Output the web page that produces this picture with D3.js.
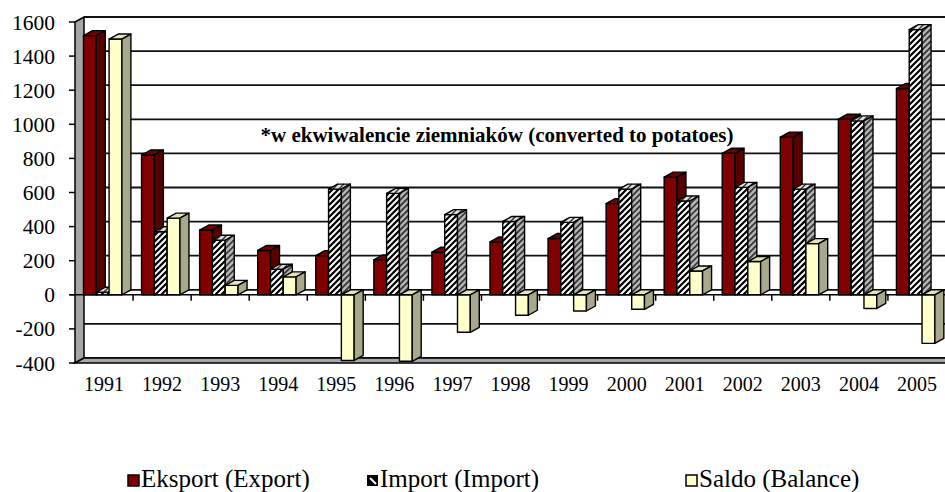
<!DOCTYPE html>
<meta charset="utf-8">
<style>
body { margin: 0; background: #fff; }
</style>
<svg width="945" height="492" font-family="Liberation Serif"></svg>
<script src="https://cdnjs.cloudflare.com/ajax/libs/d3/7.8.5/d3.min.js"></script>
<script>

var years = ["1991","1992","1993","1994","1995","1996","1997","1998","1999","2000","2001","2002","2003","2004","2005"];
var eksport = [1520, 820, 380, 260, 230, 205, 250, 310, 330, 535, 690, 830, 925, 1030, 1210];
var importV = [15, 370, 320, 150, 620, 595, 470, 430, 425, 620, 550, 630, 620, 1020, 1555];
var saldo = [1500, 450, 55, 105, -385, -390, -220, -120, -95, -85, 140, 195, 300, -80, -285];
var yTicks = [-400, -200, 0, 200, 400, 600, 800, 1000, 1200, 1400, 1600];
var seriesNames = ["Eksport (Export)", "Import (Import)", "Saldo (Balance)"];
var note = "*w ekwiwalencie ziemniaków (converted to potatoes)";

var FONT = "Liberation Serif";

var svg = d3.select("svg"),
    width = +svg.attr("width"),
    height = +svg.attr("height");

var dx = 9, dy = -5;

var x = d3.scaleBand().domain(years).range([75, 946]);
var inner = d3.scaleBand().domain(seriesNames).range([8.5, 8.5 + 38.4]);
var y = d3.scaleLinear().domain([-400, 1600]).range([363, 22]);

// "/" hatch lines (x + y = c) clipped to a convex polygon
function hatchSegs(poly, step) {
  var sums = poly.map(function(p) { return p[0] + p[1]; });
  var lo = Math.ceil(d3.min(sums) / step) * step, hi = d3.max(sums);
  var segs = [];
  for (var c = lo; c <= hi; c += step) {
    var pts = [];
    for (var k = 0; k < poly.length; k++) {
      var p = poly[k], q = poly[(k + 1) % poly.length];
      var fp = p[0] + p[1] - c, fq = q[0] + q[1] - c;
      if ((fp <= 0 && fq >= 0) || (fp >= 0 && fq <= 0)) {
        var tt = fp === fq ? 0 : fp / (fp - fq);
        pts.push([p[0] + tt * (q[0] - p[0]), p[1] + tt * (q[1] - p[1])]);
      }
    }
    if (pts.length >= 2) {
      pts.sort(function(a, b) { return a[0] - b[0]; });
      segs.push([pts[0], pts[pts.length - 1]]);
    }
  }
  return segs;
}

var styles = [
  { front: "#800000", top: "#6e0000", side: "#560000" },
  { front: "#ffffff", top: "#e0e0e0", side: "#b4b4b4", hatch: true },
  { front: "#ffffcc", top: "#e4e4b6", side: "#a8a88a" }
];

// back wall gridlines
svg.append("g")
  .selectAll("line")
  .data(yTicks)
  .enter().append("line")
    .attr("x1", 75 + dx).attr("x2", width)
    .attr("y1", function(d) { return y(d) + dy; })
    .attr("y2", function(d) { return y(d) + dy; })
    .attr("stroke", "#111")
    .attr("stroke-width", 1.8);

// left wall
var yTop = y(1600), yBot = y(-400);
svg.append("polygon")
    .attr("points", [[75, yTop], [75 + dx, yTop + dy], [75 + dx, yBot + dy], [75, yBot]].join(" "))
    .attr("fill", "#a6a6a6")
    .attr("stroke", "#000")
    .attr("stroke-width", 1.5);

// floor
svg.append("polygon")
    .attr("points", [[75, yBot], [75 + dx, yBot + dy], [width + 2, yBot + dy], [width + 2, yBot]].join(" "))
    .attr("fill", "#a6a6a6")
    .attr("stroke", "#000")
    .attr("stroke-width", 1.5);

// value axis ticks + labels
var ya = svg.append("g");
ya.selectAll("line")
  .data(yTicks)
  .enter().append("line")
    .attr("x1", 69).attr("x2", 75)
    .attr("y1", function(d) { return y(d); })
    .attr("y2", function(d) { return y(d); })
    .attr("stroke", "#000").attr("stroke-width", 1.5);
ya.selectAll("text")
  .data(yTicks)
  .enter().append("text")
    .attr("x", 55)
    .attr("y", function(d) { return y(d); })
    .attr("dy", "0.35em")
    .attr("text-anchor", "end")
    .attr("font-family", FONT)
    .attr("font-size", 21.5)
    .text(function(d) { return d; });

// category axis at zero
var y0 = y(0);
svg.append("line")
    .attr("x1", 70).attr("x2", width)
    .attr("y1", y0).attr("y2", y0)
    .attr("stroke", "#000").attr("stroke-width", 1.5);
svg.append("g")
  .selectAll("line")
  .data(years.slice(1))
  .enter().append("line")
    .attr("x1", function(d) { return x(d); })
    .attr("x2", function(d) { return x(d); })
    .attr("y1", y0).attr("y2", y0 + 6)
    .attr("stroke", "#000").attr("stroke-width", 1.5);

svg.append("g")
  .selectAll("text")
  .data(years)
  .enter().append("text")
    .attr("x", function(d) { return x(d) + x.bandwidth() / 2; })
    .attr("y", 391)
    .attr("text-anchor", "middle")
    .attr("font-family", FONT)
    .attr("font-size", 20)
    .text(function(d) { return d; });

// bars
var series = [eksport, importV, saldo];
var bw = inner.bandwidth();
var bars = svg.append("g");

function face(g, poly, fill, hatched, hatchColor, hatchWidth) {
  g.append("polygon")
      .attr("points", poly.join(" "))
      .attr("fill", fill)
      .attr("stroke", "none");
  if (hatched) {
    g.selectAll(null)
      .data(hatchSegs(poly, 6))
      .enter().append("line")
        .attr("x1", function(s) { return s[0][0]; })
        .attr("y1", function(s) { return s[0][1]; })
        .attr("x2", function(s) { return s[1][0]; })
        .attr("y2", function(s) { return s[1][1]; })
        .attr("stroke", hatchColor)
        .attr("stroke-width", hatchWidth);
  }
  g.append("polygon")
      .attr("points", poly.join(" "))
      .attr("fill", "none")
      .attr("stroke", "#000")
      .attr("stroke-width", 1.4)
      .attr("stroke-linejoin", "round");
}

years.forEach(function(yr, i) {
  series.forEach(function(vals, s) {
    var v = vals[i];
    var st = styles[s];
    var x0 = x(yr) + inner(seriesNames[s]);
    var t = y(Math.max(v, 0)), b = y(Math.min(v, 0));
    var g = bars.append("g");
    face(g, [[x0, t], [x0 + bw, t], [x0 + bw, b], [x0, b]], st.front, st.hatch, "#000", 2.2);
    face(g, [[x0, t], [x0 + dx, t + dy], [x0 + bw + dx, t + dy], [x0 + bw, t]], st.top, st.hatch, "#333", 1.4);
    face(g, [[x0 + bw, t], [x0 + bw + dx, t + dy], [x0 + bw + dx, b + dy], [x0 + bw, b]], st.side, st.hatch, "#333", 1.7);
  });
});

// note
svg.append("text")
    .attr("x", 497)
    .attr("y", 142)
    .attr("text-anchor", "middle")
    .attr("font-family", FONT)
    .attr("font-size", 21)
    .attr("font-weight", "bold")
    .text(note);

// legend
var legX = [128, 367, 686];
var leg = svg.append("g");
seriesNames.forEach(function(name, s) {
  var lx = legX[s];
  if (s === 1) {
    leg.append("rect")
        .attr("x", lx).attr("y", 475).attr("width", 11).attr("height", 11)
        .attr("fill", "#000");
    leg.append("line")
        .attr("x1", lx + 3).attr("y1", 478).attr("x2", lx + 9).attr("y2", 484)
        .attr("stroke", "#fff").attr("stroke-width", 2);
  } else {
    leg.append("rect")
        .attr("x", lx).attr("y", 475).attr("width", 11).attr("height", 11)
        .attr("fill", styles[s].front)
        .attr("stroke", "#000").attr("stroke-width", 1.5);
  }
  leg.append("text")
      .attr("x", lx + 13)
      .attr("y", 487)
      .attr("font-family", FONT)
      .attr("font-size", 25)
      .text(name);
});

</script>
